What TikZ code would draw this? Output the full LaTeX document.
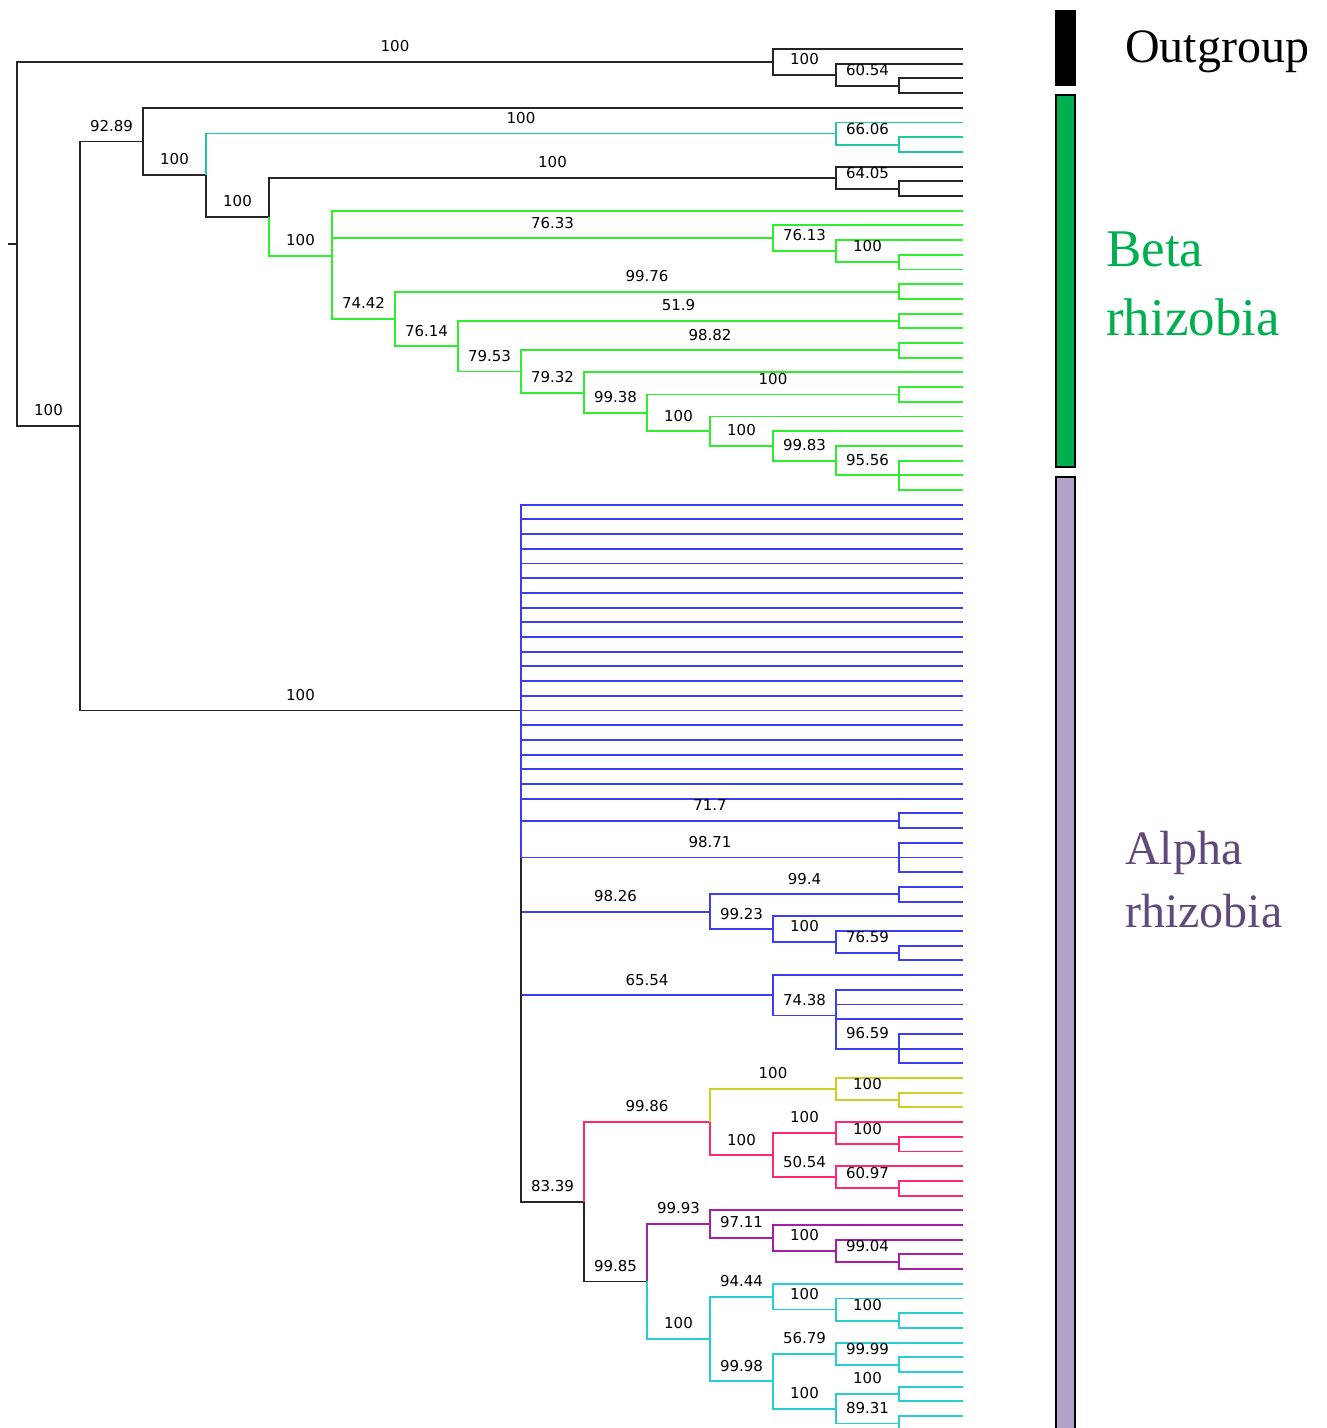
\documentclass[tikz,border=0pt]{standalone}
\usepackage{fontspec}
\setmainfont{Liberation Serif}
\newfontfamily\supfont{DejaVu Sans}
\usetikzlibrary{positioning}

\definecolor{tealbr}{RGB}{30,200,160}
\definecolor{greenbr}{RGB}{45,240,45}
\definecolor{bluebr}{RGB}{60,60,240}
\definecolor{olivebr}{RGB}{205,205,35}
\definecolor{pinkbr}{RGB}{255,40,110}
\definecolor{purplebr}{RGB}{165,30,165}
\definecolor{cyanbr}{RGB}{40,205,210}
\definecolor{betafill}{RGB}{0,176,80}
\definecolor{alphafill}{RGB}{179,162,199}
\definecolor{alphatext}{RGB}{96,74,123}

\begin{document}
\begin{tikzpicture}[
  x=1pt, y=-1pt,
  br/.style={line width=1.9pt},
  outg/.style={br, black!85},
  tealc/.style={br, tealbr},
  betac/.style={br, greenbr},
  bluec/.style={br, bluebr},
  olivec/.style={br, olivebr},
  pinkc/.style={br, pinkbr},
  purpc/.style={br, purplebr},
  cyanc/.style={br, cyanbr},
  sup/.style={pos=0.75, above=9pt, inner sep=0pt, text=black,
    font=\supfont\fontsize{15}{18}\selectfont},
  clade/.style={draw=black, line width=1.5pt},
  grp/.style={inner sep=0pt, anchor=base west}
]
\clip (0,0) rectangle (1327,1428);

% leaf i sits at y = 49 + 14.7 i
\foreach \i in {0,...,94}{
  \pgfmathsetmacro\yv{49+14.7*\i}
  \coordinate (l\i) at (963,\yv);
}
\foreach \n/\x/\i in {rt0/8/13.26, rt/17/13.26, A/773/0.875, B/836/1.75,
    C/899/2.5, N0/80/25.65, N1/143/6.29, N2/206/8.58, T1/836/5.75,
    T2/899/6.5, N3/269/11.41, K1/836/8.75, K2/899/9.5, G0/332/14.08,
    G1/773/12.875, G2/836/13.75, G3/899/14.5, P1/395/18.36, H1/899/16.5,
    P2/458/20.22, H2/899/18.5, P3/521/21.94, H3/899/20.5, P4/584/23.375,
    H5/647/24.75, H4/899/23.5, H6/710/26, H7/773/27, H8/836/28, H9/899/29,
    Q/521/45, Q1/899/52.5, Q2/899/55, Q3/710/58.69, Q3a/899/57.5,
    Q3b/773/59.875, Q3c/836/60.75, Q3d/899/61.5, Q4/773/64.375,
    Q4a/836/65.75, Q4b/899/68, R/584/78.42, R1/710/73, Y/836/70.75,
    Y2/899/71.5, S/773/75.25, S1/836/73.75, S1b/899/74.5, S2/836/76.75,
    S2b/899/77.5, R2/647/83.84, U/710/79.94, U1/773/80.875, U2/836/81.75,
    U3/899/82.5, V/710/87.75, V1/773/84.875, V1b/836/85.75, V1c/899/86.5,
    V2/773/90.625, V2a/836/88.75, V2c/899/89.5, V2b/836/92.5,
    V2d/899/91.5, V2e/899/93.5}{
  \pgfmathsetmacro\yv{49+14.7*\i}
  \coordinate (\n) at (\x,\yv);
}

% outgroup
\draw[outg] (rt0) -- (rt);
\draw[outg] (rt) |- node[sup]{100} (A);
\draw[outg] (rt) |- node[sup]{100} (N0);
\draw[outg] (A) |- (l0);
\draw[outg] (A) |- node[sup]{100} (B);
\draw[outg] (B) |- (l1);
\draw[outg] (B) |- node[sup]{60.54} (C);
\draw[outg] (C) |- (l2) (C) |- (l3);

% beta
\draw[outg] (N0) |- node[sup]{92.89} (N1);
\draw[outg] (N1) |- (l4);
\draw[outg] (N1) |- node[sup]{100} (N2);
\draw[tealc] (N2) |- node[sup]{100} (T1);
\draw[tealc] (T1) |- (l5);
\draw[tealc] (T1) |- node[sup]{66.06} (T2);
\draw[tealc] (T2) |- (l6) (T2) |- (l7);
\draw[outg] (N2) |- node[sup]{100} (N3);
\draw[outg] (N3) |- node[sup]{100} (K1);
\draw[outg] (K1) |- (l8);
\draw[outg] (K1) |- node[sup]{64.05} (K2);
\draw[outg] (K2) |- (l9) (K2) |- (l10);
\draw[betac] (N3) |- node[sup]{100} (G0);
\draw[betac] (G0) |- (l11);
\draw[betac] (G0) |- node[sup]{76.33} (G1);
\draw[betac] (G1) |- (l12);
\draw[betac] (G1) |- node[sup]{76.13} (G2);
\draw[betac] (G2) |- (l13);
\draw[betac] (G2) |- node[sup]{100} (G3);
\draw[betac] (G3) |- (l14) (G3) |- (l15);
\draw[betac] (G0) |- node[sup]{74.42} (P1);
\draw[betac] (P1) |- node[sup]{99.76} (H1);
\draw[betac] (H1) |- (l16) (H1) |- (l17);
\draw[betac] (P1) |- node[sup]{76.14} (P2);
\draw[betac] (P2) |- node[sup]{51.9} (H2);
\draw[betac] (H2) |- (l18) (H2) |- (l19);
\draw[betac] (P2) |- node[sup]{79.53} (P3);
\draw[betac] (P3) |- node[sup]{98.82} (H3);
\draw[betac] (H3) |- (l20) (H3) |- (l21);
\draw[betac] (P3) |- node[sup]{79.32} (P4);
\draw[betac] (P4) |- (l22);
\draw[betac] (P4) |- node[sup]{99.38} (H5);
\draw[betac] (H5) |- node[sup]{100} (H4);
\draw[betac] (H4) |- (l23) (H4) |- (l24);
\draw[betac] (H5) |- node[sup]{100} (H6);
\draw[betac] (H6) |- (l25);
\draw[betac] (H6) |- node[sup]{100} (H7);
\draw[betac] (H7) |- (l26);
\draw[betac] (H7) |- node[sup]{99.83} (H8);
\draw[betac] (H8) |- (l27);
\draw[betac] (H8) |- node[sup]{95.56} (H9);
\draw[betac] (H9) |- (l28) (H9) |- (l29) (H9) |- (l30);

% alpha
\draw[outg] (N0) |- node[sup]{100} (Q);
\draw[bluec] (Q |- Q3) -- node[sup, pos=0.5]{98.26} (Q3);
\draw[bluec] (Q |- Q4) -- node[sup, pos=0.5]{65.54} (Q4);
\draw[outg] (Q) |- node[sup]{83.39} (R);
\foreach \i in {31,...,51}
  \draw[bluec] (Q) |- (l\i);
\draw[bluec] (Q) |- node[sup]{71.7} (Q1);
\draw[bluec] (Q1) |- (l52) (Q1) |- (l53);
\draw[bluec] (Q) |- node[sup]{98.71} (Q2);
\draw[bluec] (Q2) |- (l54) (Q2) |- (l55) (Q2) |- (l56);
\draw[bluec] (Q3) |- node[sup]{99.4} (Q3a);
\draw[bluec] (Q3a) |- (l57) (Q3a) |- (l58);
\draw[bluec] (Q3) |- node[sup]{99.23} (Q3b);
\draw[bluec] (Q3b) |- (l59);
\draw[bluec] (Q3b) |- node[sup]{100} (Q3c);
\draw[bluec] (Q3c) |- (l60);
\draw[bluec] (Q3c) |- node[sup]{76.59} (Q3d);
\draw[bluec] (Q3d) |- (l61) (Q3d) |- (l62);
\draw[bluec] (Q4) |- (l63);
\draw[bluec] (Q4) |- node[sup]{74.38} (Q4a);
\draw[bluec] (Q4a) |- (l64) (Q4a) |- (l65) (Q4a) |- (l66);
\draw[bluec] (Q4a) |- node[sup]{96.59} (Q4b);
\draw[bluec] (Q4b) |- (l67) (Q4b) |- (l68) (Q4b) |- (l69);

\draw[pinkc] (R) |- node[sup]{99.86} (R1);
\draw[olivec] (R1) |- node[sup]{100} (Y);
\draw[olivec] (Y) |- (l70);
\draw[olivec] (Y) |- node[sup]{100} (Y2);
\draw[olivec] (Y2) |- (l71) (Y2) |- (l72);
\draw[pinkc] (R1) |- node[sup]{100} (S);
\draw[pinkc] (S) |- node[sup]{100} (S1);
\draw[pinkc] (S1) |- (l73);
\draw[pinkc] (S1) |- node[sup]{100} (S1b);
\draw[pinkc] (S1b) |- (l74) (S1b) |- (l75);
\draw[pinkc] (S) |- node[sup]{50.54} (S2);
\draw[pinkc] (S2) |- (l76);
\draw[pinkc] (S2) |- node[sup]{60.97} (S2b);
\draw[pinkc] (S2b) |- (l77) (S2b) |- (l78);

\draw[outg] (R) |- node[sup]{99.85} (R2);
\draw[purpc] (R2) |- node[sup]{99.93} (U);
\draw[purpc] (U) |- (l79);
\draw[purpc] (U) |- node[sup]{97.11} (U1);
\draw[purpc] (U1) |- (l80);
\draw[purpc] (U1) |- node[sup]{100} (U2);
\draw[purpc] (U2) |- (l81);
\draw[purpc] (U2) |- node[sup]{99.04} (U3);
\draw[purpc] (U3) |- (l82) (U3) |- (l83);
\draw[cyanc] (R2) |- node[sup]{100} (V);
\draw[cyanc] (V) |- node[sup]{94.44} (V1);
\draw[cyanc] (V1) |- (l84);
\draw[cyanc] (V1) |- node[sup]{100} (V1b);
\draw[cyanc] (V1b) |- (l85);
\draw[cyanc] (V1b) |- node[sup]{100} (V1c);
\draw[cyanc] (V1c) |- (l86) (V1c) |- (l87);
\draw[cyanc] (V) |- node[sup]{99.98} (V2);
\draw[cyanc] (V2) |- node[sup]{56.79} (V2a);
\draw[cyanc] (V2a) |- (l88);
\draw[cyanc] (V2a) |- node[sup]{99.99} (V2c);
\draw[cyanc] (V2c) |- (l89) (V2c) |- (l90);
\draw[cyanc] (V2) |- node[sup]{100} (V2b);
\draw[cyanc] (V2b) |- node[sup]{100} (V2d);
\draw[cyanc] (V2d) |- (l91) (V2d) |- (l92);
\draw[cyanc] (V2b) |- node[sup]{89.31} (V2e);
\draw[cyanc] (V2e) |- (l93) (V2e) |- (l94);

% group bars
\fill[black] (1055,10) rectangle (1076,86);
\draw[clade, fill=betafill] (1056,95) rectangle (1075,467);
\draw[clade, fill=alphafill] (1056,477) rectangle (1075,1450);

\node[grp, font=\fontsize{48}{58}\selectfont] (outlbl) at (1125,62) {Outgroup};
\node[grp, text=betafill, font=\fontsize{53}{68}\selectfont] (beta1) at (1106,266) {Beta};
\node[grp, text=betafill, font=\fontsize{53}{68}\selectfont] (beta2) at (1106,335) {rhizobia};
\node[grp, text=alphatext, font=\fontsize{48}{62}\selectfont] (alpha1) at (1125,864) {Alpha};
\node[grp, text=alphatext, font=\fontsize{48}{62}\selectfont] (alpha2) at (1125,927) {rhizobia};
\end{tikzpicture}
\end{document}
